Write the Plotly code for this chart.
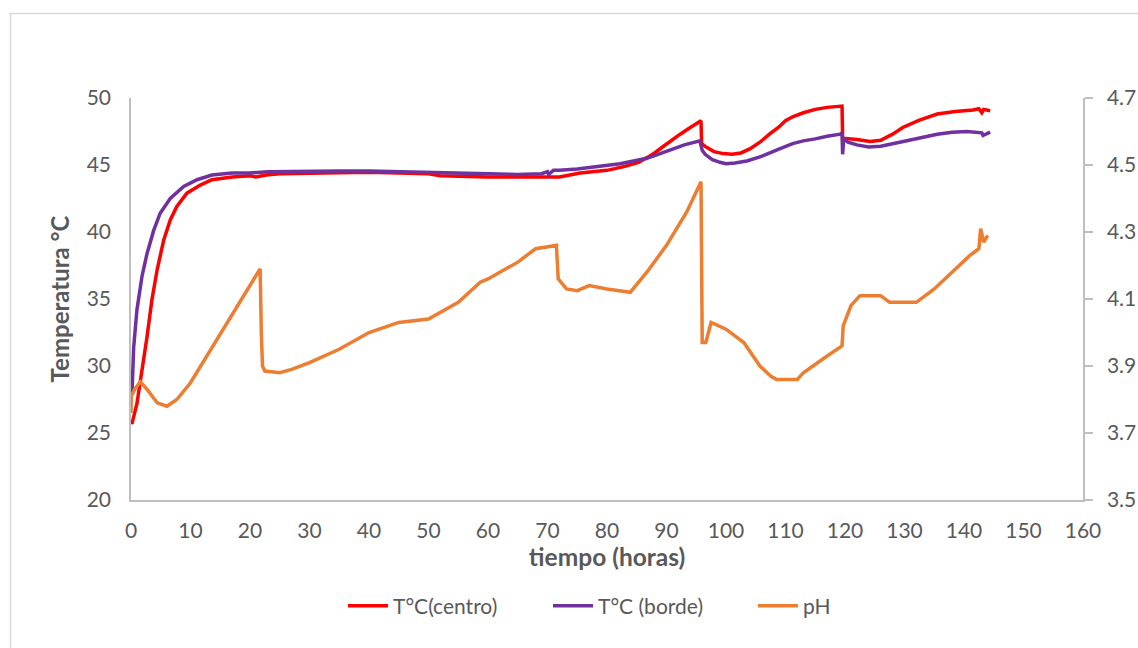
import plotly.graph_objects as go

# Temperature at the centre of the pile (°C) vs time (h)
t_centro = [0, 0.17, 1.0, 1.85, 2.7, 3.5, 4.4, 5.5, 6.6, 7.7, 9.4, 11.65, 13.6, 17, 20,
            21, 22.7, 25, 30, 35, 40, 45, 50, 52, 55, 60, 65, 70, 72,
            75.5, 80, 83, 85.3, 86.7, 88, 89.5, 91, 92.3, 94, 95.6, 95.8, 95.9, 96.8, 98,
            99.5, 101, 102.5, 104, 105.7, 107.3, 108.8, 110, 111.2, 113, 115, 117, 119.5,
            119.6, 121, 122, 124.2, 126, 128, 129.7, 132.5, 135.5, 138.5, 141.5, 142.5,
            143, 143.3, 144.4]
T_centro = [25.8, 25.7, 27.2, 29.5, 32.2, 34.9, 37.2, 39.4, 40.9, 41.9, 42.9, 43.5, 43.9,
            44.1, 44.2, 44.1, 44.25, 44.35, 44.4,
            44.45, 44.45, 44.4, 44.35, 44.2, 44.15, 44.1, 44.1, 44.1, 44.1, 44.4, 44.6,
            44.9, 45.2, 45.55, 45.9, 46.4, 46.9, 47.3, 47.8, 48.2, 48.3, 46.6, 46.3, 46.0,
            45.85, 45.8, 45.9, 46.2, 46.7, 47.3, 47.8, 48.3, 48.6, 48.9, 49.15, 49.3, 49.4,
            47.0, 46.95, 46.9, 46.75, 46.85, 47.3, 47.8, 48.35, 48.8, 49.0, 49.1, 49.2,
            48.9, 49.15, 49.05]

# Temperature at the edge of the pile (°C)
t_borde = [0, 0.17, 0.45, 1.0, 1.85, 2.7, 3.8, 4.9, 6.6, 8.85, 11.1, 13.6, 17,
           20, 23, 28.4, 35, 40, 45, 50, 55, 58.6, 65, 69, 70, 70.2, 71, 72, 75, 82.2,
           86.7, 88, 90, 93, 95.6, 96, 96.5, 97.7, 99, 100, 101.5, 103.5, 105.7, 107.5,
           109, 111.2, 113, 115, 117, 119.2, 119.5, 119.6, 119.8, 120.5, 122, 124, 126,
           129.2, 132, 135.5, 138, 140.5, 143, 143.2, 144.4]
T_borde = [27.8, 28.0, 31.4, 34.2, 36.7, 38.4, 40.1, 41.4, 42.5, 43.4, 43.9, 44.25, 44.4,
           44.4, 44.5, 44.55, 44.55, 44.55, 44.5, 44.45, 44.35, 44.3,
           44.3, 44.35, 44.5, 44.3, 44.6, 44.6, 44.7, 45.1, 45.5, 45.7, 46.0, 46.5, 46.8,
           46.1, 45.8, 45.4, 45.2, 45.1, 45.15, 45.3, 45.6, 45.9, 46.2, 46.6, 46.8, 46.95,
           47.15, 47.3, 47.4, 45.8, 47.0, 46.7, 46.5, 46.35, 46.4, 46.7, 46.95, 47.3,
           47.45, 47.5, 47.4, 47.2, 47.45]

# pH of the material
t_ph = [0, 0.05, 0.6, 1.57, 2.7, 4.4, 6.05, 7.7, 10, 13.6, 17.1, 19.5, 21.2, 21.7, 21.9,
        22.1, 22.5, 25, 27, 30, 35, 40, 45, 50, 55, 58.7, 60, 65, 68, 71.5, 71.8, 73.2,
        75, 77, 80, 83.9, 86.7, 90, 93.4, 95.6, 95.8, 96.0, 96.6, 97.5, 100, 103, 105.7,
        107.5, 108.5, 112, 113, 117, 119.5, 119.7, 121, 122.5, 126, 127.5, 132, 135,
        138, 141, 142.5, 142.8, 143.3, 144]
ph = [3.76, 3.81, 3.83, 3.853, 3.83, 3.79, 3.78, 3.80, 3.85, 3.955, 4.06, 4.13, 4.18,
      4.19, 4.00, 3.90, 3.885, 3.88, 3.89, 3.91, 3.95, 4.00, 4.03, 4.04, 4.09, 4.15, 4.16,
      4.21, 4.25, 4.26, 4.16, 4.13, 4.125, 4.14, 4.13, 4.12, 4.18, 4.26, 4.36, 4.44, 4.45,
      3.97, 3.97, 4.03, 4.01, 3.97, 3.90, 3.87, 3.86, 3.86, 3.88, 3.93, 3.96, 4.02, 4.08,
      4.11, 4.11, 4.09, 4.09, 4.13, 4.18, 4.23, 4.25, 4.31, 4.27, 4.29]

FONT = "Lato"
GREY_TXT = "#595959"
AXIS_LINE = "#BFBFBF"

# plot area in pixels (used to place legends and the outer frame)
PX_L, PX_R, PX_T, PX_B = 131, 1083, 98, 500


def px_x(p):
    return (p - PX_L) / (PX_R - PX_L)


def px_y(p):
    return (PX_B - p) / (PX_B - PX_T)


fig = go.Figure()
fig.add_trace(go.Scatter(x=t_centro, y=T_centro, name="T°C(centro)", mode="lines",
                         line=dict(color="#FF0000", width=3.5), legend="legend"))
fig.add_trace(go.Scatter(x=t_borde, y=T_borde, name="T°C (borde)", mode="lines",
                         line=dict(color="#7030A0", width=3.5), legend="legend2"))
fig.add_trace(go.Scatter(x=t_ph, y=ph, name="pH", mode="lines", yaxis="y2",
                         line=dict(color="#ED7D31", width=3.5), legend="legend3"))

legend_common = dict(orientation="h", xanchor="left", yanchor="middle", y=px_y(606),
                     font=dict(size=21, color=GREY_TXT), bgcolor="rgba(0,0,0,0)",
                     itemwidth=40)

fig.update_layout(
    width=1138, height=648,
    margin=dict(l=PX_L, r=1138 - PX_R, t=PX_T, b=648 - PX_B, autoexpand=False),
    paper_bgcolor="white", plot_bgcolor="white",
    font=dict(family=FONT, size=21, color=GREY_TXT),
    showlegend=True,
    legend=dict(x=px_x(343), **legend_common),
    legend2=dict(x=px_x(548), **legend_common),
    legend3=dict(x=px_x(753), **legend_common),
    xaxis=dict(range=[0, 160], dtick=10, tick0=0, showgrid=False, zeroline=False,
               showline=True, linecolor=AXIS_LINE, linewidth=1.5, ticks="",
               ticklabelstandoff=11, automargin=False,
               tickfont=dict(size=21, color=GREY_TXT),
               title=dict(text="<b>tiempo (horas)</b>", font=dict(size=24.5, color=GREY_TXT),
                          standoff=4)),
    yaxis=dict(range=[20, 50], dtick=5, tick0=20, showgrid=False, zeroline=False,
               showline=True, linecolor=AXIS_LINE, linewidth=1.5, ticks="",
               ticklabelstandoff=14, automargin=False,
               tickfont=dict(size=21, color=GREY_TXT),
               title=dict(text="<b>Temperatura °C</b>", font=dict(size=24, color=GREY_TXT),
                          standoff=10)),
    yaxis2=dict(range=[3.5, 4.7], dtick=0.2, tick0=3.5, overlaying="y", side="right",
                showgrid=False, zeroline=False, showline=True, linecolor=AXIS_LINE,
                linewidth=1.5, ticks="outside", ticklen=8, tickwidth=1.5,
                tickcolor=AXIS_LINE, tickformat=".1f", ticklabelstandoff=10,
                automargin=False, tickfont=dict(size=21, color=GREY_TXT)),
    shapes=[dict(type="rect", xref="paper", yref="paper",
                 x0=px_x(10.5), x1=px_x(1145), y0=px_y(655), y1=px_y(13.5),
                 line=dict(color="#D9D9D9", width=1.5), fillcolor="rgba(0,0,0,0)",
                 layer="below")],
)

fig.write_html("out.html")
